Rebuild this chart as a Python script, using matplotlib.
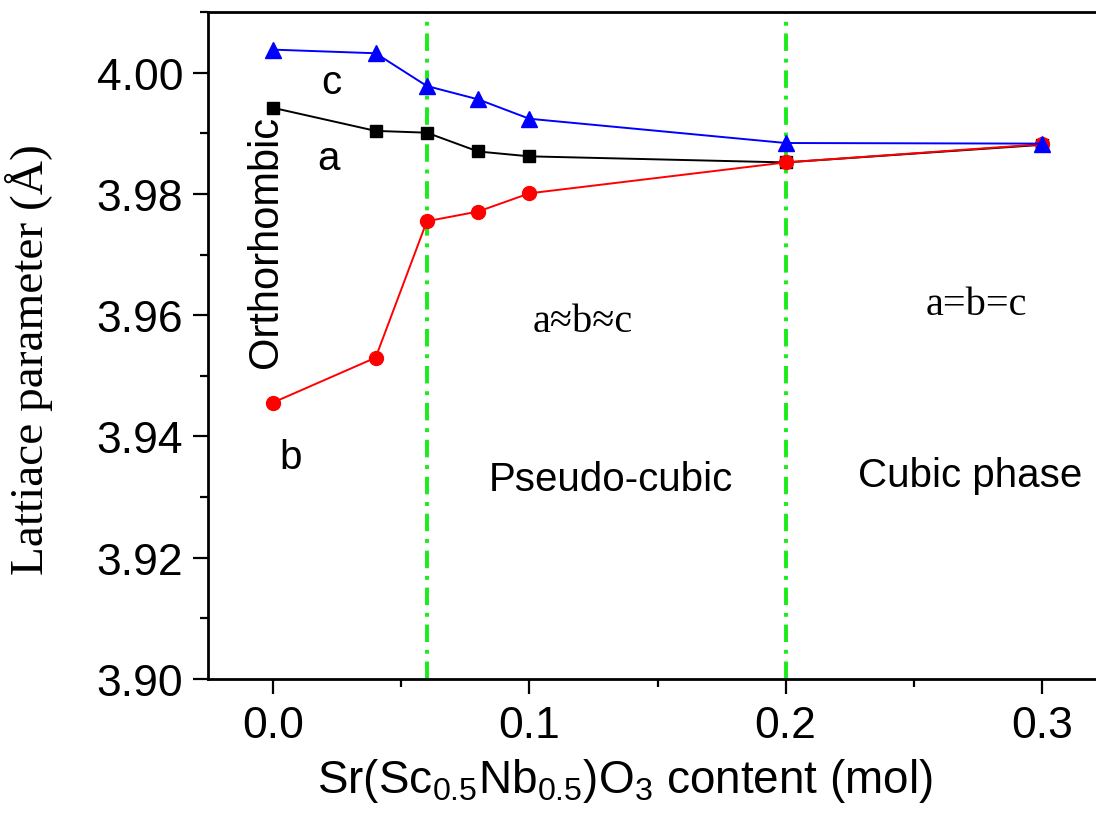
import matplotlib
matplotlib.use("Agg")
import matplotlib.pyplot as plt
from matplotlib.ticker import MultipleLocator, FormatStrFormatter

# SSN content (mol)
content = [0.0, 0.04, 0.06, 0.08, 0.1, 0.2, 0.3]
# lattice parameters (angstrom)
param_a = [3.9942, 3.9904, 3.9901, 3.9870, 3.9862, 3.9852, 3.9881]
param_b = [3.9456, 3.9530, 3.9755, 3.9771, 3.9801, 3.9852, 3.9882]
param_c = [4.0038, 4.0032, 3.9978, 3.9956, 3.9924, 3.9884, 3.9883]
# phase boundaries
boundaries = [0.06, 0.2]

plt.rcParams["font.family"] = ["Liberation Sans", "DejaVu Sans"]
plt.rcParams["mathtext.fontset"] = "custom"
plt.rcParams["mathtext.rm"] = "Liberation Sans"
plt.rcParams["mathtext.it"] = "Liberation Sans:italic"
plt.rcParams["mathtext.bf"] = "Liberation Sans:bold"

fig = plt.figure(figsize=(10.96, 8.2), dpi=100)
ax = fig.add_axes([0.1898, 0.1707, 0.831, 0.8134])

ax.plot(content, param_a, color="black", marker="s", markersize=8.5, linewidth=1.4)
ax.plot(content, param_b, color="red", marker="o", markersize=10, linewidth=1.4)
ax.plot(content, param_c, color="blue", marker="^", markersize=11, linewidth=1.4)

for xb in boundaries:
    ax.axvline(xb, color="#1aeb1a", linestyle=(0, (4.5, 2, 1, 2)), linewidth=2.8, zorder=0)

ax.set_xlim(-0.0254, 0.33)
ax.set_ylim(3.90, 4.01)
ax.xaxis.set_major_locator(MultipleLocator(0.1))
ax.xaxis.set_minor_locator(MultipleLocator(0.05))
ax.yaxis.set_major_locator(MultipleLocator(0.02))
ax.yaxis.set_minor_locator(MultipleLocator(0.01))
ax.xaxis.set_major_formatter(FormatStrFormatter("%.1f"))
ax.yaxis.set_major_formatter(FormatStrFormatter("%.2f"))

ax.tick_params(which="both", direction="out", width=1.6, labelsize=32, top=False, right=False)
ax.tick_params(which="major", length=10.8)
ax.tick_params(which="minor", length=5.8)
ax.tick_params(axis="y", which="major", pad=7)
ax.tick_params(axis="x", which="major", pad=8)
for sp in ax.spines.values():
    sp.set_linewidth(2)

ax.set_xlabel(r"Sr(Sc$_{0.5}$Nb$_{0.5}$)O$_3$ content (mol)", fontsize=33)
ax.xaxis.set_label_coords(0.458, -0.115)
ax.set_ylabel("Lattiace parameter (Å)", fontsize=34, family="Liberation Serif")
ax.yaxis.set_label_coords(-0.17, 0.48)

ax.text(0.0226, 3.9985, "c", fontsize=29, ha="center", va="center")
ax.text(0.0218, 3.9860, "a", fontsize=29, ha="center", va="center")
ax.text(0.0070, 3.9366, "b", fontsize=29, ha="center", va="center")
ax.text(-0.0027, 3.9722, "Orthorhombic", fontsize=30, rotation=90, ha="center", va="center")
ax.text(0.1208, 3.9590, "a≈b≈c", fontsize=29, family="Liberation Serif", ha="center", va="center")
ax.text(0.2746, 3.9618, "a=b=c", fontsize=29, family="Liberation Serif", ha="center", va="center")
ax.text(0.1317, 3.9330, "Pseudo-cubic", fontsize=29, ha="center", va="center")
ax.text(0.2719, 3.9336, "Cubic phase", fontsize=29, ha="center", va="center")

fig.savefig("out.png", dpi=100)
